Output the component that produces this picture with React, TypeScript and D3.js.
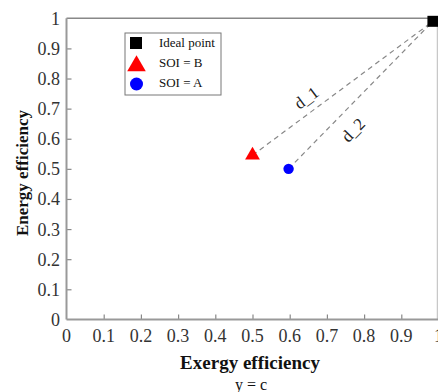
import * as d3 from "d3";
import React, { useEffect, useRef } from "react";

// tick values on both axes
const xTicks = [0, 0.1, 0.2, 0.3, 0.4, 0.5, 0.6, 0.7, 0.8, 0.9, 1];
const yTicks = [0, 0.1, 0.2, 0.3, 0.4, 0.5, 0.6, 0.7, 0.8, 0.9, 1];

// points (exergy efficiency, energy efficiency)
const idealPoint: [number, number] = [0.985, 0.99];
const soiB: [number, number] = [0.5, 0.545];
const soiA: [number, number] = [0.597, 0.5];

const distanceNames = ["d_1", "d_2"];
const distanceLabelPos: [number, number][] = [
  [0.645, 0.735],
  [0.771, 0.628],
];

const legendNames = ["Ideal point", "SOI = B", "SOI = A"];

const W = 438;
const H = 392;
const margin = { top: 18.3, right: 0, bottom: 72.6, left: 66.5 };
const FONT = "'Liberation Serif', 'Times New Roman', serif";

const App: React.FC = () => {
  const gx = useRef<SVGGElement>(null);
  const gy = useRef<SVGGElement>(null);

  const xScale = d3.scaleLinear().domain([0, 1]).range([margin.left, 438.5]);
  const yScale = d3.scaleLinear().domain([0, 1]).range([H - margin.bottom, margin.top]);

  useEffect(() => {
    const xa = d3.select(gx.current!);
    xa.selectAll("*").remove();
    xa.call(d3.axisBottom(xScale).tickValues(xTicks.slice(1, -1)).tickSize(-5).tickFormat(() => ""));
    xa.select(".domain").remove();
    xa.selectAll("line").attr("stroke", "#888").attr("stroke-width", 1.2);

    const ya = d3.select(gy.current!);
    ya.selectAll("*").remove();
    ya.call(d3.axisLeft(yScale).tickValues(yTicks.slice(1, -1)).tickSize(-5).tickFormat(() => ""));
    ya.select(".domain").remove();
    ya.selectAll("line").attr("stroke", "#888").attr("stroke-width", 1.2);
  }, []);

  const x0 = xScale(0);
  const x1 = xScale(1);
  const y0 = yScale(0);
  const y1 = yScale(1);

  const lines = [soiB, soiA];
  const angle = (p: [number, number]) =>
    (Math.atan2(yScale(idealPoint[1]) - yScale(p[1]), xScale(idealPoint[0]) - xScale(p[0])) * 180) / Math.PI;

  const tri = d3.symbol().type(d3.symbolTriangle);

  return (
    <svg width={W} height={H} style={{ position: "absolute", left: 0, top: 0, background: "#fff" }} fontFamily={FONT}>
      {/* frame */}
      <line x1={x0} x2={x1 - 1.2} y1={y1} y2={y1} stroke="#888" strokeWidth={1.5} />
      <line x1={x1 - 1.2} x2={x1 - 1.2} y1={y1} y2={y0} stroke="#bbb" strokeWidth={1} />
      <g ref={gx} transform={`translate(0,${y0})`} />
      <g ref={gy} transform={`translate(${x0},0)`} />
      <line x1={x0} x2={x1} y1={y0} y2={y0} stroke="#999" strokeWidth={2} />
      <line x1={x0} x2={x0} y1={y1} y2={y0} stroke="#999" strokeWidth={2} />

      {/* tick labels */}
      {xTicks.map((t) => (
        <text key={"x" + t} x={xScale(t)} y={342} textAnchor="middle" fontSize={18} fill="#333">
          {String(t)}
        </text>
      ))}
      {yTicks.map((t) => (
        <text key={"y" + t} x={60} y={yScale(t) + 6.5} textAnchor="end" fontSize={18} fill="#333">
          {String(t)}
        </text>
      ))}

      {/* axis titles */}
      <text x={250} y={369} textAnchor="middle" fontSize={19} fontWeight="bold" fill="#111">
        Exergy efficiency
      </text>
      <text x={251} y={390} textAnchor="middle" fontSize={16} fill="#111">
        y = c
      </text>
      <text
        transform={`translate(28,173) rotate(-90)`}
        textAnchor="middle"
        fontSize={17}
        fontWeight="bold"
        fill="#111"
      >
        Energy efficiency
      </text>

      {/* distance lines */}
      {lines.map((p, i) => (
        <line
          key={"l" + i}
          x1={xScale(p[0])}
          y1={yScale(p[1])}
          x2={xScale(idealPoint[0])}
          y2={yScale(idealPoint[1])}
          stroke="#888"
          strokeWidth={1.2}
          strokeDasharray="5,4"
        />
      ))}
      {distanceNames.map((n, i) => (
        <text
          key={n}
          transform={`translate(${xScale(distanceLabelPos[i][0])},${yScale(distanceLabelPos[i][1])}) rotate(${angle(lines[i])})`}
          textAnchor="middle"
          dominantBaseline="central"
          fontSize={17}
          fill="#222"
        >
          {n}
        </text>
      ))}

      {/* markers */}
      <rect x={xScale(idealPoint[0]) - 5.5} y={yScale(idealPoint[1]) - 5.5} width={11} height={11} fill="#000" />
      <path d={tri.size(95)()!} transform={`translate(${xScale(soiB[0])},${yScale(soiB[1])})`} fill="red" />
      <circle cx={xScale(soiA[0])} cy={yScale(soiA[1])} r={5.2} fill="blue" />

      {/* legend */}
      <g>
        <rect x={125} y={33} width={96} height={62} fill="#fff" stroke="#777" strokeWidth={1} />
        <rect x={130} y={37} width={12} height={12} fill="#000" />
        <path d={tri.size(150)()!} transform="translate(136.5,66)" fill="red" />
        <circle cx={136.5} cy={84} r={6.5} fill="blue" />
        {legendNames.map((n, i) => (
          <text key={n} x={159} y={47 + i * 20} fontSize={13} fill="#111">
            {n}
          </text>
        ))}
      </g>
    </svg>
  );
};

export default App;
